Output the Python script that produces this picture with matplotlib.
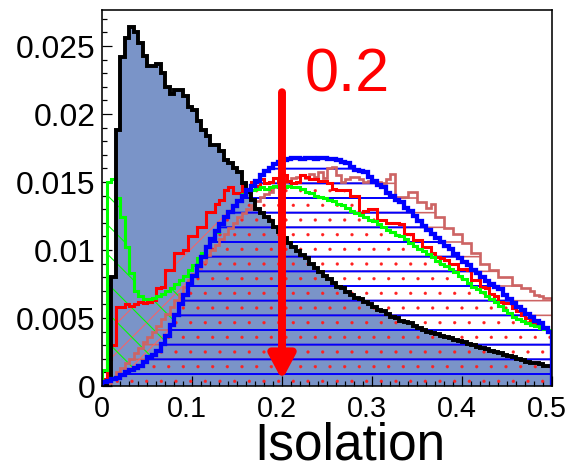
import numpy as np
import matplotlib
matplotlib.use("Agg")
import matplotlib.pyplot as plt
from matplotlib.transforms import ScaledTranslation

plt.rcParams['font.family'] = ['Liberation Sans', 'DejaVu Sans']

# 100 bins from 0 to 0.5
edges = np.linspace(0, 0.5, 101)

black = np.array([
    0.0000, 0.0004, 0.0080, 0.0188, 0.0242, 0.0256, 0.0264, 0.0260, 0.0252, 0.0243,
    0.0235, 0.0235, 0.0237, 0.0230, 0.0220, 0.0215, 0.0218, 0.0218, 0.0213, 0.0205,
    0.0203, 0.0195, 0.0188, 0.0184, 0.0177, 0.0177, 0.0173, 0.0166, 0.0164, 0.0160,
    0.0157, 0.0149, 0.0143, 0.0137, 0.0130, 0.0127, 0.0124, 0.0121, 0.0117, 0.0113,
    0.0109, 0.0105, 0.0102, 0.0099, 0.0096, 0.0094, 0.0090, 0.0087, 0.0084, 0.0081,
    0.0079, 0.0076, 0.0073, 0.0072, 0.0069, 0.0067, 0.0065, 0.0064, 0.0062, 0.0060,
    0.0058, 0.0056, 0.0055, 0.0053, 0.0051, 0.0050, 0.0048, 0.0047, 0.0046, 0.0044,
    0.0043, 0.0041, 0.0040, 0.0039, 0.0038, 0.0037, 0.0036, 0.0035, 0.0034, 0.0033,
    0.0032, 0.0031, 0.0030, 0.0029, 0.0028, 0.0027, 0.0026, 0.0025, 0.0024, 0.0023,
    0.0022, 0.0021, 0.0020, 0.0019, 0.0018, 0.0017, 0.0017, 0.0016, 0.0015, 0.0015])

blue = np.array([
    0.0003, 0.0004, 0.0005, 0.0006, 0.0008, 0.0010, 0.0012, 0.0013, 0.0015, 0.0018,
    0.0021, 0.0023, 0.0026, 0.0031, 0.0037, 0.0045, 0.0052, 0.0060, 0.0067, 0.0075,
    0.0081, 0.0088, 0.0095, 0.0102, 0.0108, 0.0114, 0.0119, 0.0124, 0.0128, 0.0132,
    0.0136, 0.0140, 0.0144, 0.0147, 0.0151, 0.0155, 0.0158, 0.0160, 0.0163, 0.0165,
    0.0166, 0.0167, 0.0168, 0.0168, 0.0167, 0.0168, 0.0168, 0.0167, 0.0168, 0.0168,
    0.0167, 0.0167, 0.0166, 0.0165, 0.0164, 0.0161, 0.0159, 0.0158, 0.0157, 0.0154,
    0.0151, 0.0148, 0.0146, 0.0142, 0.0140, 0.0137, 0.0135, 0.0131, 0.0129, 0.0125,
    0.0121, 0.0118, 0.0115, 0.0112, 0.0109, 0.0106, 0.0103, 0.0101, 0.0097, 0.0094,
    0.0091, 0.0089, 0.0085, 0.0083, 0.0080, 0.0077, 0.0075, 0.0073, 0.0071, 0.0067,
    0.0064, 0.0061, 0.0058, 0.0056, 0.0053, 0.0051, 0.0048, 0.0046, 0.0043, 0.0040])

green = np.array([
    0.0012, 0.0150, 0.0152, 0.0138, 0.0124, 0.0102, 0.0083, 0.0070, 0.0066, 0.0064,
    0.0064, 0.0065, 0.0066, 0.0068, 0.0070, 0.0072, 0.0075, 0.0078, 0.0081, 0.0085,
    0.0089, 0.0094, 0.0098, 0.0103, 0.0108, 0.0113, 0.0119, 0.0125, 0.0129, 0.0133,
    0.0137, 0.0141, 0.0143, 0.0144, 0.0145, 0.0146, 0.0145, 0.0146, 0.0147, 0.0146,
    0.0146, 0.0147, 0.0146, 0.0146, 0.0145, 0.0143, 0.0142, 0.0140, 0.0139, 0.0138,
    0.0137, 0.0136, 0.0134, 0.0133, 0.0131, 0.0129, 0.0127, 0.0126, 0.0124, 0.0122,
    0.0121, 0.0119, 0.0117, 0.0115, 0.0113, 0.0111, 0.0110, 0.0108, 0.0105, 0.0103,
    0.0101, 0.0099, 0.0097, 0.0095, 0.0092, 0.0090, 0.0088, 0.0086, 0.0084, 0.0081,
    0.0079, 0.0076, 0.0073, 0.0071, 0.0069, 0.0066, 0.0064, 0.0062, 0.0059, 0.0056,
    0.0054, 0.0051, 0.0049, 0.0048, 0.0046, 0.0045, 0.0044, 0.0043, 0.0042, 0.0041])

red = np.array([
    0.0005, 0.0020, 0.0030, 0.0058, 0.0058, 0.0060, 0.0059, 0.0060, 0.0062, 0.0061,
    0.0062, 0.0063, 0.0072, 0.0073, 0.0085, 0.0085, 0.0098, 0.0098, 0.0100, 0.0110,
    0.0110, 0.0117, 0.0117, 0.0128, 0.0128, 0.0134, 0.0137, 0.0144, 0.0146, 0.0142,
    0.0142, 0.0148, 0.0145, 0.0150, 0.0147, 0.0152, 0.0149, 0.0150, 0.0153, 0.0150,
    0.0155, 0.0151, 0.0149, 0.0150, 0.0155, 0.0154, 0.0152, 0.0152, 0.0151, 0.0151,
    0.0149, 0.0145, 0.0144, 0.0144, 0.0144, 0.0140, 0.0140, 0.0127, 0.0129, 0.0130,
    0.0130, 0.0122, 0.0122, 0.0120, 0.0120, 0.0120, 0.0119, 0.0112, 0.0112, 0.0107,
    0.0107, 0.0102, 0.0102, 0.0098, 0.0095, 0.0094, 0.0093, 0.0090, 0.0090, 0.0086,
    0.0086, 0.0085, 0.0078, 0.0078, 0.0073, 0.0072, 0.0068, 0.0066, 0.0062, 0.0061,
    0.0061, 0.0057, 0.0055, 0.0052, 0.0050, 0.0047, 0.0046, 0.0044, 0.0042, 0.0040])

pink = np.array([
    0.0000, 0.0002, 0.0005, 0.0010, 0.0013, 0.0017, 0.0020, 0.0024, 0.0028, 0.0032,
    0.0036, 0.0040, 0.0044, 0.0049, 0.0053, 0.0058, 0.0063, 0.0068, 0.0073, 0.0078,
    0.0082, 0.0087, 0.0091, 0.0096, 0.0100, 0.0104, 0.0108, 0.0112, 0.0116, 0.0120,
    0.0124, 0.0127, 0.0130, 0.0133, 0.0136, 0.0139, 0.0141, 0.0143, 0.0146, 0.0148,
    0.0150, 0.0151, 0.0153, 0.0154, 0.0155, 0.0153, 0.0156, 0.0154, 0.0157, 0.0153,
    0.0160, 0.0161, 0.0155, 0.0150, 0.0152, 0.0154, 0.0154, 0.0152, 0.0150, 0.0151,
    0.0151, 0.0150, 0.0149, 0.0152, 0.0156, 0.0139, 0.0139, 0.0139, 0.0143, 0.0143,
    0.0135, 0.0135, 0.0131, 0.0134, 0.0124, 0.0124, 0.0116, 0.0116, 0.0112, 0.0112,
    0.0105, 0.0105, 0.0098, 0.0098, 0.0090, 0.0090, 0.0085, 0.0085, 0.0080, 0.0080,
    0.0080, 0.0074, 0.0074, 0.0072, 0.0072, 0.0070, 0.0067, 0.0066, 0.0065, 0.0065])

xticks = [0, 0.1, 0.2, 0.3, 0.4, 0.5]
xticklabels = ['0', '0.1', '0.2', '0.3', '0.4', '0.5']
yticks = [0, 0.005, 0.01, 0.015, 0.02, 0.025]
yticklabels = ['0', '0.005', '0.01', '0.015', '0.02', '0.025']
cut = 0.2

DPI = 88
fig = plt.figure(figsize=(566 / DPI, 472 / DPI), dpi=DPI)
ax = fig.add_axes([102 / 566, 1 - 386 / 472, 450 / 566, 376 / 472])

def ext(v):
    return np.append(v, v[-1])

def hfill(lo, hi, hatch, color, hlw, z):
    plt.rcParams['hatch.linewidth'] = hlw
    pc = ax.fill_between(edges, ext(lo), ext(hi), step='post', facecolor='none',
                         edgecolor=color, linewidth=0, hatch=hatch, zorder=z)
    if hasattr(pc, 'set_hatch_linewidth'):
        pc.set_hatch_linewidth(hlw)
    return pc

zero = np.zeros_like(blue)

# signal, filled
ax.stairs(black, edges, fill=True, color='#7a94c8', zorder=1)

# hatched regions
hfill(zero, pink, '-', '#cd6464', 1.3, 2)
hfill(zero, np.minimum(red, blue), '.', '#ff2020', 0.2, 2.1)
hfill(np.minimum(red, blue), red, '/', '#ff6060', 0.8, 2.2)
hfill(np.minimum(green, blue), green, '\\', '#00ff00', 0.9, 2.3)
hfill(zero, blue, '-', 'blue', 1.6, 3)

# outlines
ax.stairs(pink, edges, color='#cd6464', lw=2.2, zorder=4)
ax.stairs(red, edges, color='red', lw=2.5, zorder=5)
ax.stairs(green, edges, color='#00ff00', lw=2.5, zorder=6)
ax.stairs(black, edges, color='black', lw=3.2, zorder=6.5)
ax.stairs(blue, edges, color='blue', lw=3.5, zorder=7)

# cut arrow
ax.annotate('', xy=(cut, 0.00044), xytext=(cut, 0.0216),
            arrowprops=dict(arrowstyle='-|>,head_width=0.4,head_length=0.75',
                            lw=6.5, color='red', mutation_scale=22,
                            shrinkA=0, shrinkB=0), zorder=10)
fig.text(305 / 566, 1 - 92 / 472, '0.2', color='red', fontsize=50,
         ha='left', va='baseline')

ax.set_xlim(0, 0.5)
ax.set_ylim(0, (386 - 10) / 13600)
ax.set_xticks(xticks)
ax.set_xticklabels(xticklabels, fontsize=23.5)
ax.set_yticks(yticks)
ax.set_yticklabels(yticklabels, fontsize=26)
ax.set_xticks(np.arange(0, 0.5001, 0.01), minor=True)
ax.set_yticks(np.arange(0, 0.0276, 0.001), minor=True)
ax.tick_params(which='both', direction='in', top=False, right=False, width=1)
ax.tick_params(which='major', length=8)
ax.tick_params(which='minor', length=4)
ax.tick_params(axis='y', pad=5.5)
ax.tick_params(axis='x', pad=7)
shift = ScaledTranslation(-5 / DPI, 0, fig.dpi_scale_trans)
for lab in ax.get_xticklabels()[1:]:
    lab.set_transform(lab.get_transform() + shift)
for s in ax.spines.values():
    s.set_linewidth(1.3)
    s.set_zorder(20)

fig.text(350 / 566, 1 - 460 / 472, 'Isolation', fontsize=42, ha='center', va='baseline')

fig.savefig('out.png', dpi=DPI)
